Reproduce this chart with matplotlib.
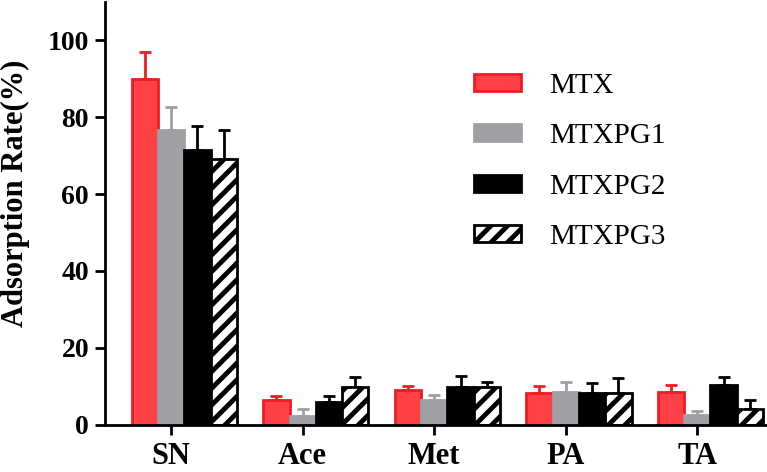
import matplotlib
matplotlib.use("Agg")
import matplotlib.pyplot as plt
import numpy as np

plt.rcParams['font.family'] = ['Liberation Serif', 'DejaVu Serif']
plt.rcParams['hatch.linewidth'] = 3.5

categories = ['SN', 'Ace', 'Met', 'PA', 'TA']
series = ['MTX', 'MTXPG1', 'MTXPG2', 'MTXPG3']
means = {
    'MTX':    [90.1, 6.4, 8.9, 8.3, 8.4],
    'MTXPG1': [76.8, 2.1, 6.5, 8.4, 2.5],
    'MTXPG2': [71.4, 5.8, 9.7, 8.2, 10.4],
    'MTXPG3': [69.2, 9.7, 9.7, 8.2, 4.1],
}
errors = {
    'MTX':    [7.0, 1.0, 1.2, 1.7, 1.8],
    'MTXPG1': [5.8, 1.9, 1.1, 2.6, 0.9],
    'MTXPG2': [6.3, 1.6, 2.9, 2.7, 2.1],
    'MTXPG3': [7.5, 2.7, 1.5, 3.9, 2.3],
}

styles = {
    'MTX':    dict(color='#ff4044', edgecolor='#ee1c24', hatch=None, ecol='#ee1c24'),
    'MTXPG1': dict(color='#a0a0a4', edgecolor='#a0a0a4', hatch=None, ecol='#a0a0a4'),
    'MTXPG2': dict(color='black', edgecolor='black', hatch=None, ecol='black'),
    'MTXPG3': dict(color='white', edgecolor='black', hatch='//', ecol='black'),
}
offsets = [-0.2, 0.0, 0.2, 0.4]
width = 0.2

fig = plt.figure(figsize=(7.67, 4.72), dpi=100)
ax = fig.add_axes([0.137, 0.1006, 0.863, 0.895])
x = np.arange(len(categories))

for s, off in zip(series, offsets):
    st = styles[s]
    ax.bar(x + off, means[s], width, color=st['color'], edgecolor=st['edgecolor'],
           hatch=st['hatch'], linewidth=2, label=s, zorder=2)
    ax.errorbar(x + off, means[s], yerr=[np.zeros(len(x)), errors[s]], fmt='none',
                ecolor=st['ecol'], elinewidth=2, capsize=4.5, capthick=2, zorder=1)

ax.set_xlim(-0.502, 4.53)
ax.set_ylim(0, 110)
ax.set_yticks([0, 20, 40, 60, 80, 100])
ax.set_xticks(x)
ax.set_xticklabels(categories, fontsize=22, fontweight='bold')
for lab in ax.get_yticklabels():
    lab.set_fontsize(20)
    lab.set_fontweight('bold')
ax.set_ylabel('Adsorption Rate(%)', fontsize=22, fontweight='bold')
ax.yaxis.set_label_coords(-0.114, 0.548)
for sp in ['top', 'right']:
    ax.spines[sp].set_visible(False)
for sp in ['left', 'bottom']:
    ax.spines[sp].set_linewidth(2)
ax.tick_params(axis='both', width=2, length=7.5, direction='out', pad=4)
ax.tick_params(axis='x', pad=5)

ax.legend(loc='upper left', bbox_to_anchor=(0.518, 0.894), frameon=False, fontsize=21,
          handlelength=1.6, handleheight=0.52, labelspacing=0.83, handletextpad=0.96)

fig.savefig('out.png', dpi=100)
